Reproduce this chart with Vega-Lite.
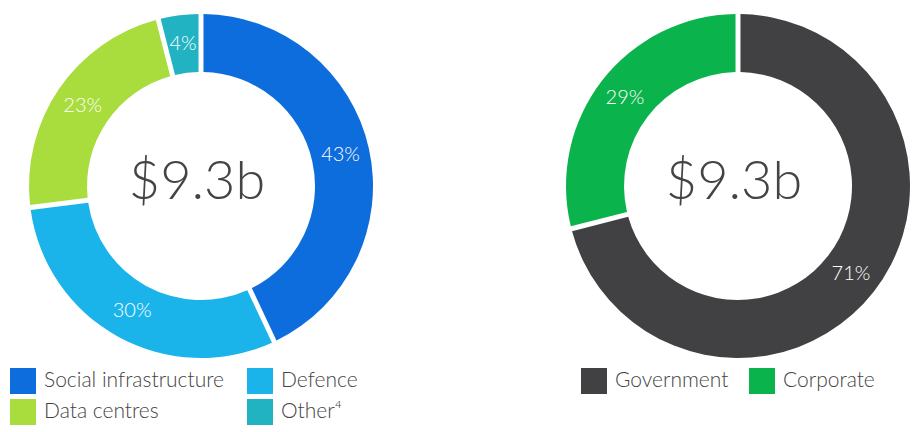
{
  "$schema": "https://vega.github.io/schema/vega-lite/v6.json",
  "background": "white",
  "padding": {"left": 10, "top": 14, "right": 0, "bottom": 0},
  "spacing": 193,
  "config": {
    "view": {"stroke": null},
    "font": "Lato",
    "legend": {
      "orient": "none",
      "title": null,
      "direction": "horizontal",
      "symbolType": "square",
      "symbolSize": 676,
      "symbolStrokeWidth": 0,
      "symbolOpacity": 1,
      "labelFontSize": 21,
      "labelFont": "Lato",
      "labelFontWeight": 300,
      "labelColor": "#444444",
      "labelLimit": 400,
      "labelOffset": 8,
      "rowPadding": 5,
      "columnPadding": 22,
      "padding": 0
    }
  },
  "resolve": {"scale": {"color": "independent", "theta": "independent"}, "legend": {"color": "independent"}},
  "hconcat": [
    {
      "width": 344,
      "height": 344,
      "layer": [
        {
          "data": {"values": [
            {"segment": "Social infrastructure", "share": 43, "label": "43%", "rank": 1},
            {"segment": "Defence", "share": 30, "label": "30%", "rank": 2},
            {"segment": "Data centres", "share": 23, "label": "23%", "rank": 3},
            {"segment": "Other⁴", "share": 4, "label": "4%", "rank": 4}
          ]},
          "layer": [
            {
              "mark": {"type": "arc", "innerRadius": 114, "outerRadius": 172, "padAngle": 0.024},
              "encoding": {
                "theta": {"field": "share", "type": "quantitative", "stack": true},
                "order": {"field": "rank", "type": "quantitative"},
                "color": {
                  "field": "segment",
                  "type": "nominal",
                  "sort": ["Social infrastructure", "Defence", "Data centres", "Other⁴"],
                  "scale": {"domain": ["Social infrastructure", "Defence", "Data centres", "Other⁴"], "range": ["#0e6ddc", "#1bb4ea", "#a9dc3d", "#22b3c3"]},
                  "legend": {"columns": 2, "legendX": -19, "legendY": 354}
                }
              }
            },
            {
              "mark": {"type": "text", "radius": 143, "fontSize": 20, "fontWeight": 300, "color": "white", "font": "Lato"},
              "encoding": {
                "theta": {"field": "share", "type": "quantitative", "stack": true},
                "order": {"field": "rank", "type": "quantitative"},
                "text": {"field": "label", "type": "nominal"}
              }
            }
          ]
        },
        {
          "data": {"values": [{"total": "$9.3b"}]},
          "mark": {"type": "text", "fontSize": 54, "fontWeight": 300, "color": "#444444", "font": "Lato", "baseline": "middle", "dx": -4, "dy": -3},
          "encoding": {"text": {"field": "total", "type": "nominal"}}
        }
      ]
    },
    {
      "width": 344,
      "height": 344,
      "layer": [
        {
          "data": {"values": [
            {"segment": "Government", "share": 71, "label": "71%", "rank": 1},
            {"segment": "Corporate", "share": 29, "label": "29%", "rank": 2}
          ]},
          "layer": [
            {
              "mark": {"type": "arc", "innerRadius": 114, "outerRadius": 172, "padAngle": 0.024},
              "encoding": {
                "theta": {"field": "share", "type": "quantitative", "stack": true},
                "order": {"field": "rank", "type": "quantitative"},
                "color": {
                  "field": "segment",
                  "type": "nominal",
                  "sort": ["Government", "Corporate"],
                  "scale": {"domain": ["Government", "Corporate"], "range": ["#414143", "#0ab34b"]},
                  "legend": {"columns": 2, "legendX": 15, "legendY": 354, "columnPadding": 20}
                }
              }
            },
            {
              "mark": {"type": "text", "radius": 143, "fontSize": 20, "fontWeight": 300, "color": "white", "font": "Lato"},
              "encoding": {
                "theta": {"field": "share", "type": "quantitative", "stack": true},
                "order": {"field": "rank", "type": "quantitative"},
                "text": {"field": "label", "type": "nominal"}
              }
            }
          ]
        },
        {
          "data": {"values": [{"total": "$9.3b"}]},
          "mark": {"type": "text", "fontSize": 54, "fontWeight": 300, "color": "#444444", "font": "Lato", "baseline": "middle", "dx": -4, "dy": -3},
          "encoding": {"text": {"field": "total", "type": "nominal"}}
        }
      ]
    }
  ]
}
